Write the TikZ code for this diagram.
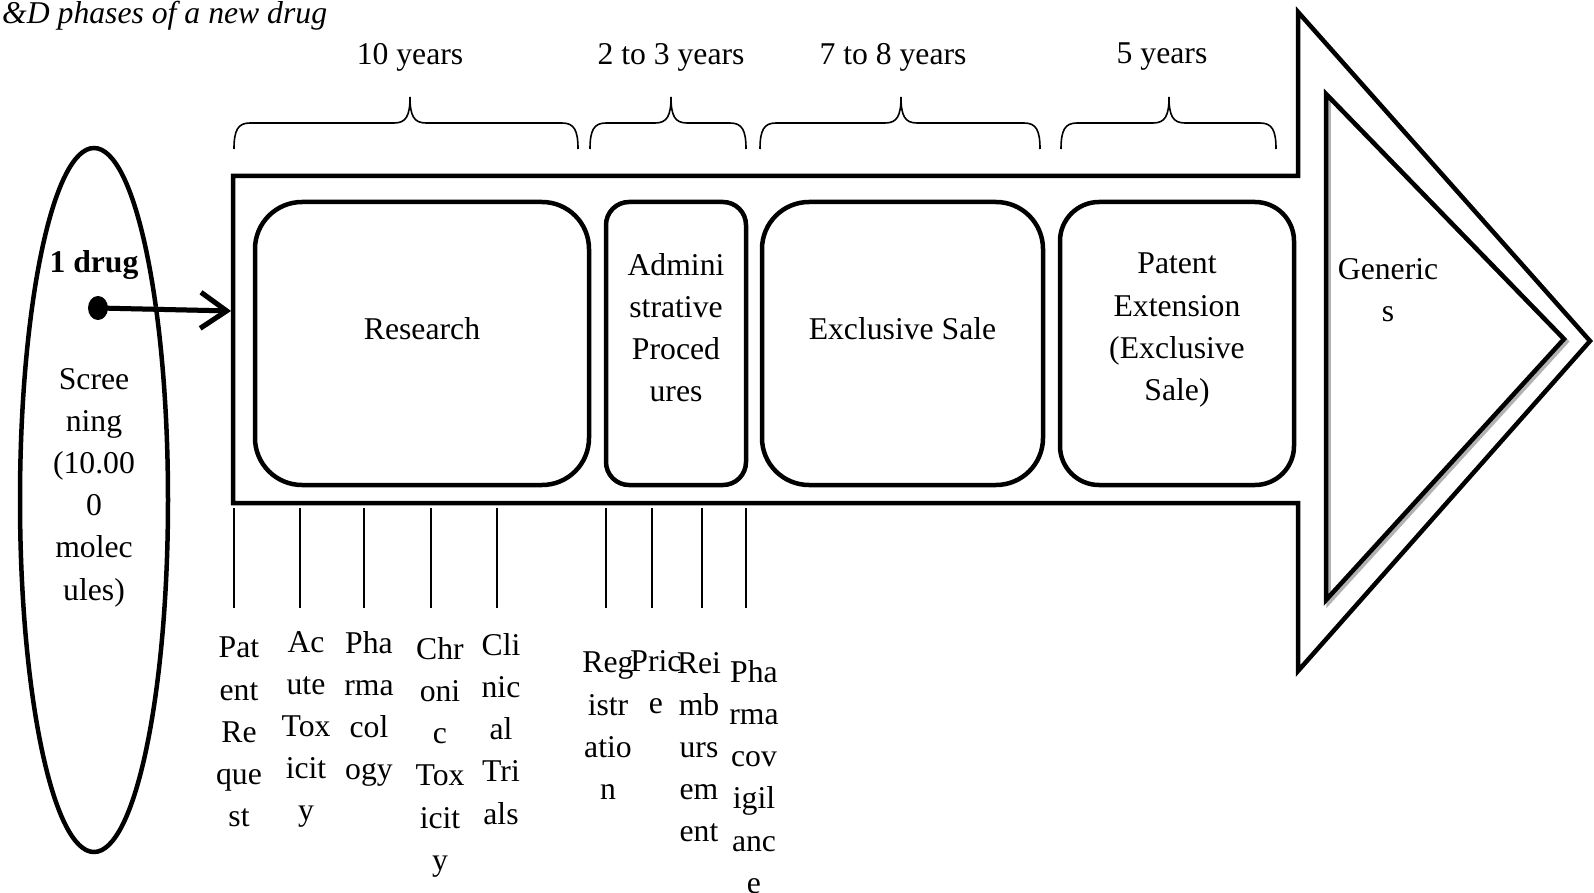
\documentclass[tikz,border=0pt]{standalone}
\usepackage{fontspec}
\setmainfont{Liberation Serif}
\usetikzlibrary{shapes.geometric,arrows.meta}
\begin{document}
\begin{tikzpicture}[x=1pt,y=-1pt,
  txt/.style={inner sep=0pt, anchor=north, align=center, font=\fontsize{31.7}{42.2}\selectfont},
  phase/.style={draw, line width=4.5pt, rounded corners=#1, inner sep=0pt, minimum height=283pt},
  outline/.style={line width=4.5pt, line join=miter},
  brace/.style={line width=1.6pt},
  tick/.style={line width=1.6pt},
  shadow/.style={gray!60}
]
\useasboundingbox (0,0) rectangle (1594,893);

% title
\node[txt, anchor=north west, font=\fontsize{31.7}{42.2}\selectfont\itshape] (title) at (2,1) {\&D phases of a new drug};

% big arrow
\draw[outline] (233,176) -- (1298,176) -- (1298,12) -- (1590,341) -- (1298,671) -- (1298,503) -- (233,503) -- cycle;
\coordinate (entry) at (231,311);

% inner triangle with shadow
\draw[outline, shadow, shift={(2.5,2.5)}] (1326,94) -- (1564,339) -- (1326,600) -- cycle;
\draw[outline] (1326,94) -- (1564,339) -- (1326,600) -- cycle;
\node[txt] (generics) at (1388,258) {Generic\\s};

% screening ellipse
\node[ellipse, draw, line width=4.5pt, minimum width=148pt, minimum height=704pt, inner sep=0pt] (screen) at (94,500) {};
\node[txt, font=\fontsize{31.7}{42.2}\selectfont\bfseries] (onedrug) at (94,250) {1 drug};
\node[txt] (screentxt) at (94,368) {Scree\\ning\\(10.00\\0\\molec\\ules)};

% arrow from dot
\coordinate (dot) at (98,308);
\draw[shadow, line width=5pt, -{Straight Barb[length=26pt,width=36pt]}, shift={(2,3)}] (dot) -- (entry);
\draw[line width=5pt, -{Straight Barb[length=26pt,width=36pt]}] (dot) -- (entry);
\fill (dot) ellipse [x radius=10pt, y radius=12pt];

% phases
\node[phase=47pt, minimum width=334pt] (research) at (422,343.5) {};
\node[phase=23pt, minimum width=140pt] (admin) at (676,343.5) {};
\node[phase=47pt, minimum width=281pt] (exclusive) at (902.5,343.5) {};
\node[phase=39pt, minimum width=234pt] (patent) at (1177,343.5) {};
\node[txt] (researchtxt) at (422,317) {Research};
\node[txt] (admintxt) at (676,253) {Admini\\strative\\Proced\\ures};
\node[txt] (exclusivetxt) at (902.5,317) {Exclusive Sale};
\node[txt] (patenttxt) at (1177,253) {Patent\\Extension\\(Exclusive\\Sale)};

% braces
\foreach \a/\t/\b in {234/410/578, 590/671/746, 760/901/1040, 1061/1169/1276}{
  \draw[brace] (\a,149) .. controls (\a,130) and ({\a+4},123) .. ({\a+16},123)
    -- ({\t-16},123) .. controls ({\t-4},123) and (\t,116) .. (\t,97)
    .. controls (\t,116) and ({\t+4},123) .. ({\t+16},123)
    -- ({\b-16},123) .. controls ({\b-4},123) and (\b,130) .. (\b,149);
}
\node[txt] (y1) at (410,43) {10 years};
\node[txt] (y2) at (671,43) {2 to 3 years};
\node[txt] (y3) at (893,43) {7 to 8 years};
\node[txt] (y4) at (1162,43) {5 years};

% ticks
\foreach \x in {234,300,364,431,497,606,652,702,746}{
  \draw[tick] (\x,508) -- (\x,608);
}

% bottom labels
\node[txt] (l1) at (239,637) {Pat\\ent\\Re\\que\\st};
\node[txt] (l2) at (306,631) {Ac\\ute\\Tox\\icit\\y};
\node[txt] (l3) at (369,631) {Pha\\rma\\col\\ogy};
\node[txt] (l4) at (440,637) {Chr\\oni\\c\\Tox\\icit\\y};
\node[txt] (l5) at (501,633) {Cli\\nic\\al\\Tri\\als};
\node[txt] (l6) at (608,652) {Reg\\istr\\atio\\n};
\node[txt] (l7) at (656,650) {Pric\\e};
\node[txt] (l8) at (699,652) {Rei\\mb\\urs\\em\\ent};
\node[txt] (l9) at (754,660) {Pha\\rma\\cov\\igil\\anc\\e};
\end{tikzpicture}
\end{document}
